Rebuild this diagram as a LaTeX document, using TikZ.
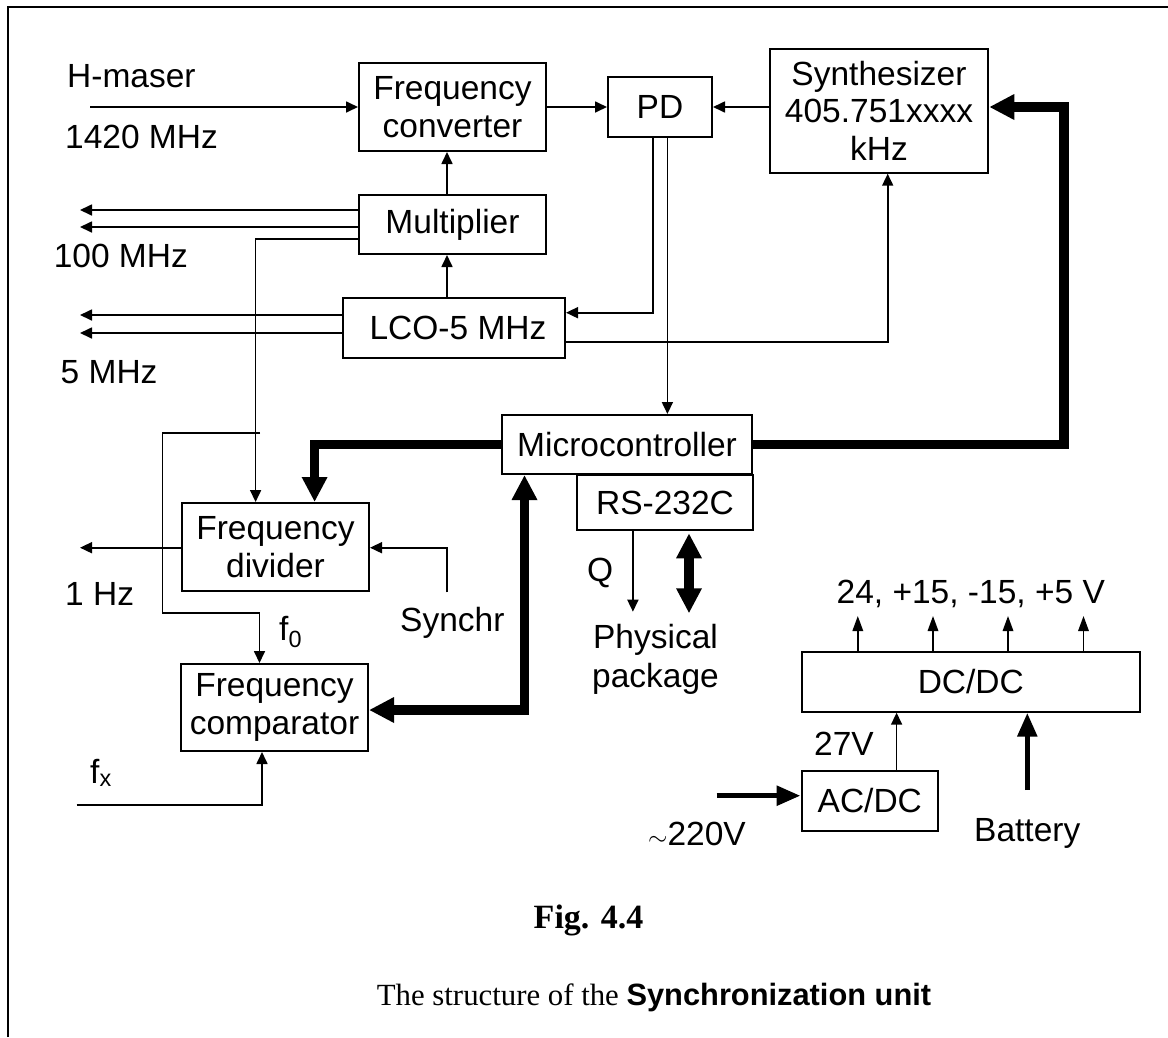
\documentclass[tikz,border=0pt]{standalone}
\usepackage{fontspec}
\setmainfont{Liberation Sans}
\newfontfamily\serifcap{Liberation Serif}
\newfontfamily\sanscap{Liberation Sans}
\usetikzlibrary{arrows.meta}
\begin{document}
\begin{tikzpicture}[x=1pt,y=-1pt,
  lbl/.style={inner sep=0pt, font=\fontsize{33.5}{37.5}\selectfont},
  box/.style={draw, line width=2pt, inner sep=0pt, align=center, font=\fontsize{33.5}{37.5}\selectfont},
  sigline/.style={line width=1.7pt, line join=miter},
  sig/.style={sigline, -{Triangle[length=12pt,width=11pt]}},
  sigv/.style={sigline, -{Triangle[length=15pt,width=10.5pt]}},
  bus/.style={line width=9.5pt, line join=miter, -{Triangle[length=25pt,width=24pt]}},
  busboth/.style={line width=9.5pt, line join=miter, {Triangle[length=25pt,width=24pt]}-{Triangle[length=25pt,width=24pt]}},
  pwr/.style={line width=5.5pt, -{Triangle[length=24pt,width=19pt]}}
]
\useasboundingbox (0,0) rectangle (1168,1037);

% frame
\coordinate (fr1) at (8,1037);
\coordinate (fr2) at (8,7);
\coordinate (fr3) at (1168,7);
\draw[line width=2.5pt, line join=miter] (fr1) -- (fr2) -- (fr3);

% boxes
\node[box, minimum width=187pt, minimum height=88pt] (fc) at (452.5,107) {Frequency\\converter};
\node[box, minimum width=104pt, minimum height=60pt] (pd) at (660,107) {PD};
\node[box, minimum width=218.5pt, minimum height=124pt] (syn) at (879,110.7) {Synthesizer\\405.751xxxx\\kHz};
\node[box, minimum width=187pt, minimum height=59pt] (mul) at (452.5,224.5) {Multiplier};
\node[box, minimum width=222pt, minimum height=60pt] (lco) at (454,328) {\hspace*{8pt}LCO-5 MHz};
\node[box, minimum width=250pt, minimum height=59pt] (mc) at (627,444.5) {Microcontroller};
\node[box, minimum width=176pt, minimum height=55.5pt] (rs) at (665,502.7) {RS-232C};
\node[box, minimum width=187pt, minimum height=88pt] (fd) at (275.5,547) {Frequency\\divider};
\node[box, minimum width=187pt, minimum height=87pt] (fcmp) at (274.5,707.5) {Frequency\\comparator};
\node[box, minimum width=338pt, minimum height=59.4pt] (dcdc) at (970.8,682) {DC/DC};
\node[box, minimum width=136.5pt, minimum height=59.7pt] (acdc) at (869.8,800.9) {AC/DC};

% labels
\node[lbl, anchor=base west] (lhm) at (67,87) {H-maser};
\node[lbl, anchor=base west] (l1420) at (65,148) {1420 MHz};
\node[lbl, anchor=base west] (l100) at (53.6,267) {100 MHz};
\node[lbl, anchor=base west] (l5) at (60.5,383) {5 MHz};
\node[lbl, anchor=base west] (l1hz) at (65,605) {1 Hz};
\node[lbl, anchor=base west] (lsyn) at (400,631) {Synchr};
\node[lbl, anchor=base west] (lf0) at (279,640) {f\textsubscript{0}};
\node[lbl, anchor=base west] (lfx) at (90,783) {f\textsubscript{x}};
\node[lbl, anchor=base west] (lq) at (587,581) {Q};
\node[lbl, anchor=base] (lpp1) at (655.5,648) {Physical};
\node[lbl, anchor=base] (lpp2) at (655.5,687) {package};
\node[lbl, anchor=base west] (lv) at (836.5,603) {24, +15, -15, +5 V};
\node[lbl, anchor=base west] (l27) at (814,755) {27V};
\node[lbl, anchor=base west] (l220) at (648,845) {$\sim$220V};
\node[lbl, anchor=base west] (lbat) at (974,841) {Battery};

% caption
\node[inner sep=0pt, anchor=base, font=\fontsize{34}{40}\selectfont\serifcap\bfseries] (fig) at (588.5,928) {Fig. 4.4};
\node[inner sep=0pt, anchor=base, font=\fontsize{30.8}{36}\selectfont\serifcap] (cap) at (654,1005) {The structure of the {\sanscap\bfseries Synchronization unit}};

% H-maser input and top chain
\coordinate (hm) at (90,107);
\draw[sig] (hm) -- (fc.west |- hm);
\draw[sig] (fc.east) -- (pd.west);
\draw[sig] (syn.west |- pd.east) -- (pd.east);
\draw[sig] (447,0 |- mul.north) -- (447,0 |- fc.south);
\draw[sig] (447,0 |- lco.north) -- (447,0 |- mul.south);

% multiplier outputs
\coordinate (m1) at (80,210);
\coordinate (m2) at (80,227);
\coordinate (m3) at (255.6,239);
\draw[sig] (mul.west |- m1) -- (m1);
\draw[sig] (mul.west |- m2) -- (m2);
\draw[sig] (mul.west |- m3) -- (m3) -- (m3 |- fd.north);

% LCO outputs
\coordinate (l1) at (80,315);
\coordinate (l2) at (80,333);
\draw[sig] (lco.west |- l1) -- (l1);
\draw[sig] (lco.west |- l2) -- (l2);

% PD outputs
\coordinate (pdk) at (653,312.7);
\draw[sig] (pdk |- pd.south) -- (pdk) -- (lco.east |- pdk);
\coordinate (pdm) at (667.4,0);
\draw[sig] (pdm |- pd.south) -- (pdm |- mc.north);

% LCO -> synthesizer
\coordinate (ls) at (887.7,341.7);
\draw[sig] (lco.east |- ls) -- (ls) -- (ls |- syn.south);

% thick buses
\coordinate (t1) at (1064,107);
\draw[bus] (mc.east) -- (mc.east -| t1) -- (t1) -- (syn.east |- t1);
\coordinate (t2) at (314.6,445);
\draw[bus] (mc.west) -- (mc.west -| t2) -- (t2 |- fd.north);
\coordinate (t3) at (524.5,710);
\draw[busboth] (fcmp.east |- t3) -- (t3) -- (t3 |- mc.south);

% divider
\coordinate (hz) at (80,547.7);
\draw[sig] (fd.west |- hz) -- (hz);
\coordinate (sy) at (447,592.3);
\draw[sig] (sy) -- (sy |- hz) -- (fd.east |- hz);

% f0 path
\coordinate (f0a) at (260,433.3);
\coordinate (f0b) at (162.6,613.3);
\coordinate (f0c) at (259.5,613.3);
\draw[sig] (f0a) -- (f0a -| f0b) -- (f0b) -- (f0c) -- (f0c |- fcmp.north);

% fx path
\coordinate (fxa) at (76.7,805);
\coordinate (fxb) at (262,805);
\draw[sig] (fxa) -- (fxb) -- (fxb |- fcmp.south);

% RS-232C outputs
\coordinate (qe) at (632.9,611.7);
\draw[sig] (qe |- rs.south) -- (qe);
\coordinate (ppa) at (689,533.3);
\coordinate (ppb) at (689,613.3);
\draw[busboth] (ppa) -- (ppb);

% power
\foreach \i/\xx in {1/857.8,2/933,3/1008,4/1083.5}{
  \coordinate (o\i) at (\xx,616);
  \draw[sigv] (o\i |- dcdc.north) -- (o\i);
}
\coordinate (v27) at (896.6,0);
\draw[sig] (v27 |- acdc.north) -- (v27 |- dcdc.south);
\coordinate (bat) at (1027.3,790);
\draw[pwr] (bat) -- (bat |- dcdc.south);
\coordinate (v220) at (716.6,795.7);
\draw[pwr] (v220) -- (acdc.west |- v220);
\end{tikzpicture}
\end{document}
